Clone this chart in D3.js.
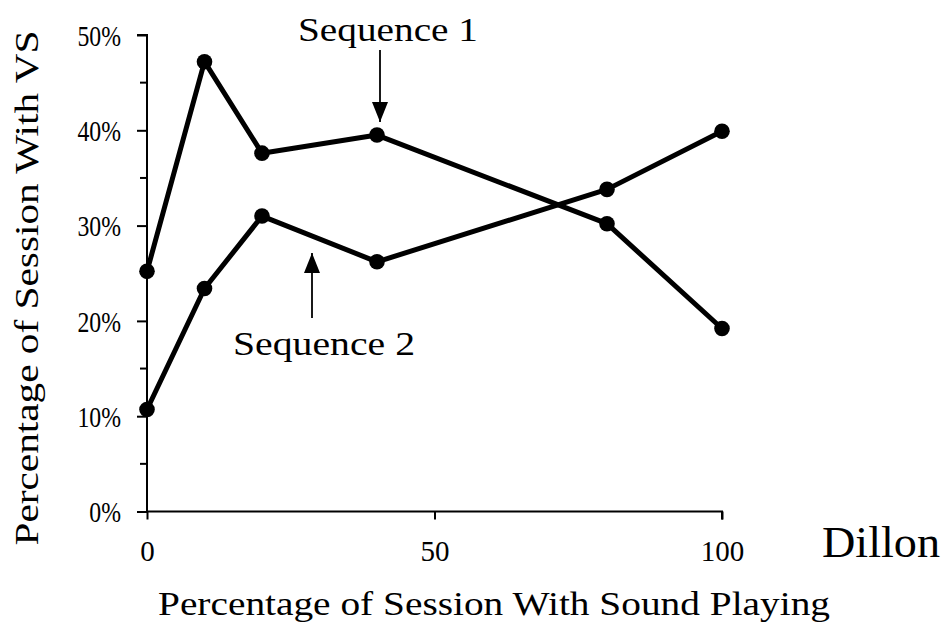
<!DOCTYPE html>
<html><head><meta charset="utf-8">
<script src="https://cdn.jsdelivr.net/npm/d3@7"></script>
<style>body{margin:0;background:#fff}text{font-family:"Liberation Serif","Times New Roman",serif;fill:#000}</style>
</head><body><svg id="c" width="943" height="624"></svg>
<script>
const xValues = [0, 10, 20, 40, 80, 100];
const seq1 = [25.2, 47.2, 37.6, 39.5, 30.2, 19.2];
const seq2 = [10.7, 23.4, 31.0, 26.2, 33.8, 39.9];
const yTicks = [0, 10, 20, 30, 40, 50];
const yMinorTicks = [5, 15, 25, 35, 45];
const xTicks = [0, 50, 100];

const svg = d3.select("#c");
const x = d3.scaleLinear().domain([0, 100]).range([147, 722]);
const y = d3.scaleLinear().domain([0, 50]).range([511.5, 35]);

// y axis
const yAxis = svg.append("g").attr("transform", "translate(147,0)")
  .call(d3.axisLeft(y).tickValues(yTicks).tickSize(10).tickFormat(d => d + "%"));
yAxis.select(".domain").attr("d", `M-10,${y(50)}H0V${y(0)}`).attr("stroke-width", 2);
yAxis.selectAll(".tick line").attr("stroke-width", 2);
yAxis.selectAll(".tick text").attr("font-size", 29).attr("x", -26 / 0.82).attr("dy", "0.35em")
  .attr("transform", "scale(0.82,1)").style("font-family", "Liberation Serif");
svg.append("g").selectAll("line").data(yMinorTicks).join("line")
  .attr("x1", 140).attr("x2", 147).attr("y1", d => y(d)).attr("y2", d => y(d))
  .attr("stroke", "#000").attr("stroke-width", 2);

// x axis
const xAxis = svg.append("g").attr("transform", `translate(0,${y(0)})`)
  .call(d3.axisBottom(x).tickValues(xTicks).tickSize(8).tickFormat(d3.format("d")));
xAxis.select(".domain").attr("d", `M${x(0)},0H${x(100)}V8`).attr("stroke-width", 2);
xAxis.selectAll(".tick line").attr("stroke-width", 2);
xAxis.selectAll(".tick text").attr("font-size", 29).attr("y", 29).attr("dy", "0.71em")
  .style("font-family", "Liberation Serif");

const line = d3.line().x((d, i) => x(xValues[i])).y(d => y(d));
[seq1, seq2].forEach(s => {
  svg.append("path").datum(s).attr("d", line).attr("fill", "none")
    .attr("stroke", "#000").attr("stroke-width", 5).attr("stroke-linejoin", "round");
  svg.append("g").selectAll("circle").data(s).join("circle")
    .attr("cx", (d, i) => x(xValues[i])).attr("cy", d => y(d)).attr("r", 7.8).attr("fill", "#000");
});

// annotations
svg.append("defs").append("marker").attr("id", "ah").attr("viewBox", "0 0 20 16")
  .attr("refX", 20).attr("refY", 8).attr("markerWidth", 20).attr("markerHeight", 16)
  .attr("markerUnits", "userSpaceOnUse").attr("orient", "auto")
  .append("path").attr("d", "M0,0L20,8L0,16Z").attr("fill", "#000");
svg.append("line").attr("x1", 380).attr("x2", 380).attr("y1", 50).attr("y2", 122)
  .attr("stroke", "#000").attr("stroke-width", 1.8).attr("marker-end", "url(#ah)");
svg.append("line").attr("x1", 312).attr("x2", 312).attr("y1", 318).attr("y2", 253)
  .attr("stroke", "#000").attr("stroke-width", 1.8).attr("marker-end", "url(#ah)");

function label(tx, ty, size, len, txt, rot) {
  svg.append("text").attr("transform", `translate(${tx},${ty})` + (rot ? " rotate(-90)" : ""))
    .attr("x", -len / 2).attr("font-size", size)
    .attr("textLength", len).attr("lengthAdjust", "spacingAndGlyphs").text(txt);
}
label(388, 41, 34, 180, "Sequence 1");
label(324, 355, 34, 182, "Sequence 2");
label(881, 557, 44, 118, "Dillon");
label(494, 615, 34, 672, "Percentage of Session With Sound Playing");
label(38, 288, 34, 515, "Percentage of Session With VS", true);
</script></body></html>
